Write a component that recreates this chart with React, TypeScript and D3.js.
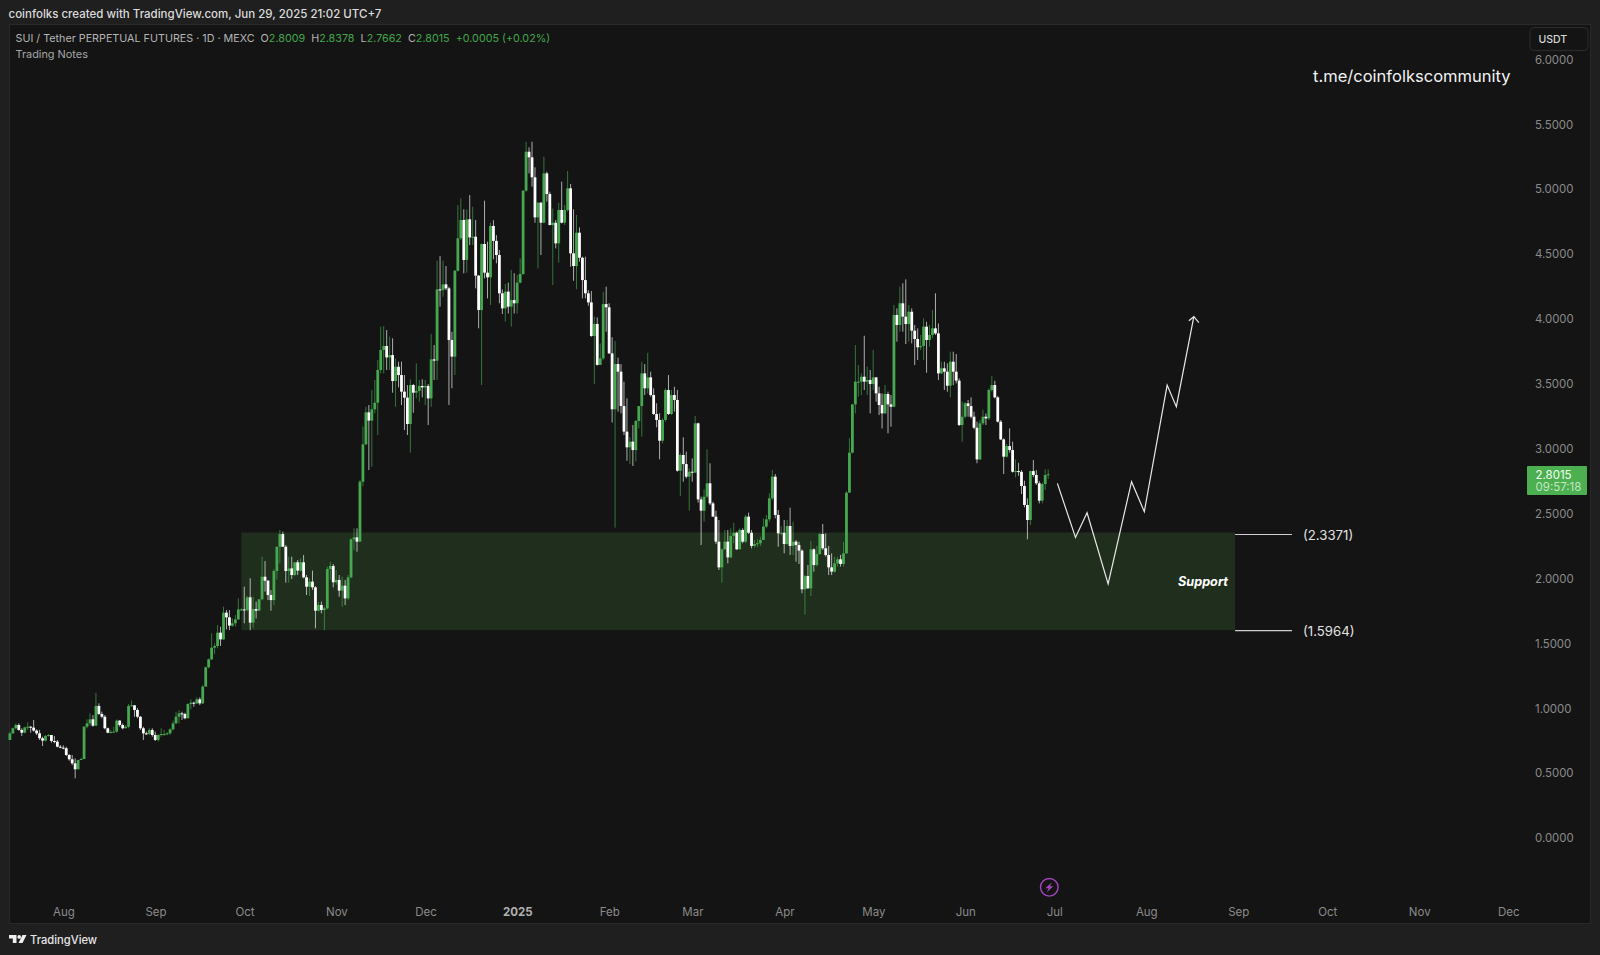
/**
 * SUI/USDT daily candles with support zone and forecast path, TradingView dark look
 */
import { useEffect, useRef } from 'react';
import * as d3 from 'd3';

const firstDay = new Date(Date.UTC(2024, 6, 14));
const firstOpen = 0.754;

const closes = [
  .805, .844, .869, .831, .81, .851, .856, .849, .826, .805,
  .767, .749, .785, .792, .746, .741, .702, .695, .69, .638,
  .605, .574, .528, .6, .607, .856, .882, .913, .864, 1.016,
  .954, .933, .844, .81, .815, .818, .903, .869, .844, .856,
  1.016, 1.021, .985, .933, .844, .805, .8, .831, .792, .754,
  .792, .8, .8, .805, .836, .882, .933, .959, .954, .921,
  1.031, 1.041, 1.036, 1.067, 1.036, 1.165, 1.314, 1.375, 1.465, 1.478,
  1.581, 1.529, 1.735, 1.699, 1.635, 1.653, 1.683, 1.76, 1.76, 1.755,
  1.853, 1.658, 1.763, 1.75, 1.838, 2.012, 1.981, 1.871, 1.832, 2.056,
  2.243, 2.341, 2.243, 2.056, 2.076, 2.025, 2.123, 2.059, 2.123, 2.007,
  1.935, 1.974, 1.93, 1.75, 1.794, 1.755, 1.768, 2.071, 2.095, 1.969,
  1.987, 1.905, 1.943, 1.845, 2.007, 2.3, 2.315, 2.282, 2.744, 3.032,
  3.279, 3.215, 3.302, 3.353, 3.605, 3.759, 3.79, 3.702, 3.72, 3.52,
  3.63, 3.566, 3.438, 3.392, 3.189, 3.489, 3.43, 3.443, 3.482, 3.471,
  3.482, 3.386, 3.687, 3.677, 4.226, 4.221, 4.265, 4.234, 3.836, 3.708,
  4.37, 4.62, 4.761, 4.453, 4.766, 4.627, 4.632, 4.332, 4.067, 4.576,
  4.355, 4.319, 4.715, 4.6, 4.491, 4.196, 4.08, 4.209, 4.093, 4.144,
  4.119, 4.278, 4.345, 4.987, 5.287, 5.244, 5.09, 4.781, 4.894, 4.74,
  5.12, 4.961, 4.722, 4.74, 4.581, 4.838, 4.74, 4.838, 5.005, 4.504,
  4.406, 4.663, 4.47, 4.298, 4.196, 4.126, 3.867, 3.96, 3.644, 3.695,
  4.113, 4.088, 3.733, 3.302, 3.651, 3.592, 3.327, 3.13, 3.009, 3.053,
  2.988, 3.212, 3.327, 3.579, 3.464, 3.548, 3.412, 3.266, 3.22, 3.06,
  3.22, 3.451, 3.266, 3.412, 3.374, 2.829, 2.95, 2.88, 2.783, 2.821,
  2.814, 3.194, 2.608, 2.521, 2.629, 2.732, 2.577, 2.475, 2.282, 2.084,
  2.223, 2.282, 2.161, 2.326, 2.351, 2.223, 2.372, 2.282, 2.475, 2.351,
  2.249, 2.264, 2.27, 2.295, 2.398, 2.454, 2.616, 2.783, 2.488, 2.346,
  2.351, 2.264, 2.403, 2.249, 2.282, 2.256, 2.213, 1.915, 2.017, 1.922,
  2.223, 2.102, 2.187, 2.341, 2.231, 2.179, 2.084, 2.051, 2.115, 2.146,
  2.11, 2.192, 2.66, 2.968, 3.34, 3.515, 3.515, 3.553, 3.515, 3.528,
  3.497, 3.548, 3.425, 3.335, 3.271, 3.42, 3.34, 3.322, 4.029, 3.952,
  4.119, 4.016, 3.959, 4.054, 3.908, 3.844, 3.78, 3.79, 3.939, 3.836,
  3.875, 3.926, 3.887, 3.579, 3.618, 3.592, 3.484, 3.669, 3.592, 3.523,
  3.181, 3.245, 3.348, 3.327, 3.245, 3.16, 2.916, 3.194, 3.245, 3.232,
  3.451, 3.489, 3.394, 3.207, 3.07, 2.937, 3.019, 2.988, 2.821, 2.826,
  2.82, 2.711, 2.565, 2.449, 2.826, 2.796, 2.732, 2.598, 2.726, 2.796, 2.8015,
];

const highs = [
  .818, .849, .882, .882, .844, .856, .89, .862, .908, .836,
  .831, .779, .792, .8, .792, .784, .754, .715, .713, .702,
  .646, .638, .612, .6, .617, .861, .913, .959, .946, 1.118,
  1.036, .972, .946, .849, .831, .856, .913, .908, .882, .869,
  1.031, 1.057, 1.023, 1, .938, .856, .818, .844, .844, .818,
  .8, .844, .831, .815, .844, .903, .972, .985, .972, .964,
  1.036, 1.067, 1.049, 1.082, 1.082, 1.177, 1.319, 1.383, 1.576, 1.498,
  1.64, 1.627, 1.781, 1.755, 1.755, 1.691, 1.717, 1.845, 1.768, 1.935,
  1.863, 2, 1.858, 1.82, 1.838, 2.166, 2.133, 1.987, 1.91, 2.069,
  2.243, 2.372, 2.359, 2.256, 2.166, 2.166, 2.123, 2.141, 2.154, 2.179,
  2.025, 2, 2.059, 1.94, 1.82, 1.82, 1.781, 2.09, 2.128, 2.11,
  2.064, 2.025, 2.012, 1.987, 2.025, 2.308, 2.385, 2.385, 2.757, 3.17,
  3.322, 3.335, 3.45, 3.528, 3.682, 3.939, 3.944, 3.913, 3.862, 3.849,
  3.695, 3.669, 3.669, 3.566, 3.489, 3.533, 3.497, 3.656, 3.528, 3.533,
  3.528, 3.497, 3.882, 3.797, 4.447, 4.483, 4.447, 4.406, 4.247, 3.9,
  4.376, 4.876, 4.928, 4.843, 4.843, 4.953, 4.863, 4.761, 4.337, 4.58,
  4.91, 4.594, 4.74, 4.76, 4.645, 4.53, 4.226, 4.268, 4.278, 4.376,
  4.35, 4.337, 4.465, 4.99, 5.364, 5.321, 5.364, 5.167, 4.9, 4.9,
  5.249, 5.133, 4.979, 4.85, 4.761, 4.894, 5.056, 4.876, 5.138, 5.038,
  4.843, 4.8, 4.704, 4.478, 4.478, 4.22, 4.214, 4.016, 4.01, 3.81,
  4.208, 4.247, 4.119, 3.857, 3.83, 3.7, 3.65, 3.515, 3.387, 3.086,
  3.181, 3.22, 3.327, 3.669, 3.651, 3.738, 3.592, 3.464, 3.348, 3.271,
  3.232, 3.464, 3.566, 3.451, 3.476, 3.451, 2.963, 3.086, 2.976, 2.847,
  2.924, 3.25, 3.199, 2.629, 2.685, 2.994, 2.886, 2.59, 2.521, 2.449,
  2.23, 2.372, 2.372, 2.385, 2.428, 2.359, 2.385, 2.385, 2.488, 2.506,
  2.372, 2.295, 2.3, 2.32, 2.462, 2.488, 2.654, 2.834, 2.803, 2.526,
  2.4, 2.449, 2.449, 2.544, 2.436, 2.295, 2.282, 2.223, 2.025, 2.102,
  2.287, 2.231, 2.249, 2.351, 2.418, 2.346, 2.249, 2.192, 2.166, 2.166,
  2.18, 2.28, 2.67, 3.078, 3.34, 3.797, 3.643, 3.579, 3.869, 3.63,
  3.605, 3.759, 3.55, 3.476, 3.425, 3.489, 3.438, 3.412, 4.106, 4.08,
  4.247, 4.273, 4.303, 4.106, 4.08, 3.952, 3.926, 3.875, 4.003, 3.977,
  3.952, 4.067, 4.196, 3.964, 3.669, 3.669, 3.656, 3.746, 3.746, 3.728,
  3.54, 3.361, 3.36, 3.374, 3.394, 3.284, 3.207, 3.22, 3.3, 3.27,
  3.463, 3.559, 3.523, 3.404, 3.22, 3.078, 3.035, 3.155, 3.053, 2.916,
  2.89, 2.834, 2.752, 2.616, 2.83, 2.911, 2.834, 2.75, 2.737, 2.839, 2.8378,
];

const lows = [
  .754, .8, .836, .825, .785, .805, .831, .81, .818, .792,
  .754, .707, .741, .779, .733, .728, .697, .69, .682, .63,
  .594, .561, .458, .528, .6, .607, .844, .862, .856, .861,
  .946, .921, .836, .805, .805, .81, .81, .856, .836, .844,
  .844, 1.01, .933, .921, .831, .754, .792, .792, .779, .746,
  .741, .779, .785, .79, .792, .826, .877, .882, .908, .913,
  .921, .99, 1.01, 1.031, 1.023, 1.031, 1.165, 1.306, 1.37, 1.416,
  1.46, 1.478, 1.524, 1.606, 1.601, 1.627, 1.627, 1.678, 1.75, 1.653,
  1.743, 1.6, 1.614, 1.69, 1.75, 1.83, 1.897, 1.833, 1.75, 1.794,
  1.99, 2.115, 2.243, 1.966, 1.966, 1.994, 2.017, 2.025, 2.051, 2,
  1.871, 1.863, 1.91, 1.614, 1.743, 1.73, 1.6, 1.76, 1.987, 1.93,
  1.95, 1.858, 1.781, 1.794, 1.832, 2, 2.218, 2.205, 2.3, 2.71,
  3.027, 2.834, 2.86, 3.271, 3.104, 3.579, 3.579, 3.605, 3.605, 3.43,
  3.322, 3.471, 3.335, 3.142, 3.104, 2.968, 3.276, 3.387, 3.361, 3.394,
  3.335, 3.181, 3.322, 3.528, 3.528, 4.093, 4.17, 4.22, 3.335, 3.464,
  3.566, 4.363, 4.607, 4.35, 4.355, 4.568, 4.568, 4.234, 3.926, 3.49,
  4.311, 4.157, 4.106, 4.458, 4.427, 4.119, 4.036, 3.977, 4.04, 3.939,
  4.04, 4.04, 4.272, 4.337, 4.979, 5.12, 5.018, 4.74, 4.388, 4.491,
  4.735, 4.902, 4.72, 4.26, 4.542, 4.432, 4.735, 4.722, 4.825, 4.401,
  4.293, 4.227, 4.44, 4.157, 4.157, 4.1, 3.86, 3.497, 3.64, 3.644,
  3.68, 3.9, 3.728, 3.2, 2.39, 3.284, 3.271, 3.104, 2.906, 2.88,
  2.865, 2.9, 3.155, 3.091, 3.412, 3.425, 3.399, 3.258, 3.163, 2.917,
  3.04, 3.207, 3.258, 3.258, 3.284, 2.822, 2.634, 2.744, 2.77, 2.521,
  2.744, 2.814, 2.583, 2.256, 2.436, 2.616, 2.564, 2.475, 2.264, 2.064,
  1.966, 2.218, 2.115, 2.154, 2.27, 2.218, 2.223, 2.27, 2.27, 2.341,
  2.231, 2.238, 2.24, 2.249, 2.295, 2.385, 2.436, 2.603, 2.462, 2.243,
  2.33, 2.192, 2.256, 2.179, 2.179, 2.128, 2.11, 1.884, 1.72, 1.922,
  1.863, 2.051, 2.09, 2.179, 2.218, 2.166, 2.025, 2.025, 2.043, 2.09,
  2.09, 2.09, 2.19, 2.66, 2.963, 3.271, 3.4, 3.412, 3.451, 3.412,
  3.271, 3.451, 3.361, 3.258, 3.155, 3.266, 3.117, 3.168, 3.317, 3.823,
  3.9, 3.9, 3.805, 3.823, 3.81, 3.643, 3.682, 3.759, 3.682, 3.584,
  3.785, 3.849, 3.875, 3.528, 3.574, 3.451, 3.438, 3.394, 3.489, 3.502,
  3.173, 3.053, 3.232, 3.245, 3.232, 3.148, 2.886, 2.91, 3.181, 3.181,
  3.22, 3.438, 3.386, 3.2, 3.065, 2.803, 2.93, 2.968, 2.814, 2.778,
  2.79, 2.649, 2.546, 2.3, 2.41, 2.78, 2.719, 2.577, 2.577, 2.68, 2.7662,
];

const priceTicks = [0, 0.5, 1, 1.5, 2, 2.5, 3, 3.5, 4, 4.5, 5, 5.5, 6];

const timeTicks: [number, number, string][] = [
  [2024, 7, 'Aug'], [2024, 8, 'Sep'], [2024, 9, 'Oct'], [2024, 10, 'Nov'], [2024, 11, 'Dec'],
  [2025, 0, '2025'], [2025, 1, 'Feb'], [2025, 2, 'Mar'], [2025, 3, 'Apr'], [2025, 4, 'May'],
  [2025, 5, 'Jun'], [2025, 6, 'Jul'], [2025, 7, 'Aug'], [2025, 8, 'Sep'], [2025, 9, 'Oct'],
  [2025, 10, 'Nov'], [2025, 11, 'Dec'],
];

const zoneStart = new Date(Date.UTC(2024, 8, 30));
const zoneEnd = new Date(Date.UTC(2025, 7, 31));
const zoneTop = 2.353;
const zoneBottom = 1.6;
const levels = [2.3371, 1.5964];

// forecast drawing: days after the first candle, price
const forecastDays = [353.1, 359.2, 363.1, 370.2, 378.1, 382.4, 390.1, 393.2, 399.1];
const forecastPrices = [2.731, 2.315, 2.505, 1.956, 2.744, 2.513, 3.489, 3.322, 4.016];

const legendParts: [string, string][] = [
  ['SUI / Tether PERPETUAL FUTURES · 1D · MEXC  O', '#b4b4b4'], ['2.8009', '#43a64c'],
  ['  H', '#b4b4b4'], ['2.8378', '#43a64c'], ['  L', '#b4b4b4'], ['2.7662', '#43a64c'],
  ['  C', '#b4b4b4'], ['2.8015', '#43a64c'], ['  +0.0005 (+0.02%)', '#43a64c'],
];

const GREEN = '#46a94f';
const FONT = 'Inter, "Noto Sans", sans-serif';

export default function App() {
  const svgRef = useRef<SVGSVGElement>(null);

  useEffect(() => {
    document.body.style.margin = '0';
    if (!svgRef.current) return;
    const svg = d3.select(svgRef.current);
    svg.selectAll('*').remove();

    const x = d3.scaleUtc()
      .domain([new Date(Date.UTC(2024, 7, 1)), new Date(Date.UTC(2025, 11, 1))])
      .range([63.3, 1508]);
    const y = d3.scaleLinear().domain([0, 6]).range([837.8, 59.2]);
    const dayX = (i: number) => x(new Date(firstDay.getTime() + i * 864e5));

    // Frame
    svg.append('rect').attr('width', 1600).attr('height', 955).attr('fill', '#1f1f1f');
    svg.append('rect').attr('x', 9.5).attr('y', 24.5).attr('width', 1581).attr('height', 899)
      .attr('fill', '#141414').attr('stroke', '#292929');

    // Support zone
    svg.append('rect')
      .attr('x', x(zoneStart)).attr('width', x(zoneEnd) - x(zoneStart))
      .attr('y', y(zoneTop)).attr('height', y(zoneBottom) - y(zoneTop))
      .attr('fill', '#202e1d');

    // Candles
    const candles = closes.map((c, i) => ({
      i, c, o: i === 0 ? firstOpen : closes[i - 1], h: highs[i], l: lows[i],
    }));
    const g = svg.append('g').selectAll('g').data(candles).enter().append('g')
      .attr('fill', d => (d.c >= d.o ? GREEN : '#ffffff'));
    g.append('rect')
      .attr('x', d => dayX(d.i) - 0.5).attr('width', 1)
      .attr('y', d => y(d.h)).attr('height', d => y(d.l) - y(d.h))
      .attr('opacity', 0.65);
    g.append('rect')
      .attr('x', d => dayX(d.i) - 1.4).attr('width', 2.8)
      .attr('y', d => y(Math.max(d.o, d.c)))
      .attr('height', d => Math.max(1, Math.abs(y(d.o) - y(d.c))));

    // Forecast path with arrow head
    const line = d3.line<number>().x((_, i) => dayX(forecastDays[i])).y(d => y(d));
    svg.append('path').attr('d', line(forecastPrices))
      .attr('fill', 'none').attr('stroke', '#e8e8e8').attr('stroke-width', 1.2);
    const tipX = dayX(forecastDays[forecastDays.length - 1]);
    const tipY = y(forecastPrices[forecastPrices.length - 1]);
    svg.append('path').attr('d', `M${tipX - 5},${tipY + 4}L${tipX},${tipY}L${tipX + 5},${tipY + 6}`)
      .attr('fill', 'none').attr('stroke', '#e8e8e8').attr('stroke-width', 1.2);

    // Level lines and labels
    levels.forEach(v => {
      svg.append('line').attr('x1', x(zoneEnd)).attr('x2', 1292).attr('y1', y(v)).attr('y2', y(v))
        .attr('stroke', '#cfcfcf').attr('stroke-width', 1.2);
      svg.append('text').attr('x', 1303).attr('y', y(v) + 0.5).attr('dy', '0.35em')
        .attr('font-family', FONT).attr('font-size', 13.2).attr('fill', '#e2e2e2')
        .text(`(${v.toFixed(4)})`);
    });
    svg.append('text').attr('x', 1228).attr('y', 581.5).attr('dy', '0.35em').attr('text-anchor', 'end')
      .attr('font-family', FONT).attr('font-size', 12.7).attr('font-weight', 700).attr('font-style', 'italic')
      .attr('fill', '#ffffff').text('Support');

    // Price axis
    svg.append('g').selectAll('text').data(priceTicks).enter().append('text')
      .attr('x', 1535).attr('y', d => y(d) + 0.5).attr('dy', '0.35em')
      .attr('font-family', FONT).attr('font-size', 11.4).attr('fill', '#8b8b8b')
      .text(d => d.toFixed(4));

    // Time axis
    svg.append('g').selectAll('text').data(timeTicks).enter().append('text')
      .attr('x', d => x(new Date(Date.UTC(d[0], d[1], 1))) + 0.7).attr('y', 912).attr('dy', '0.35em')
      .attr('text-anchor', 'middle').attr('font-family', FONT).attr('font-size', 11.5)
      .attr('font-weight', d => (d[2] === '2025' ? 700 : 400))
      .attr('fill', d => (d[2] === '2025' ? '#b0b0b0' : '#8b8b8b'))
      .text(d => d[2]);

    // Header and legend
    svg.append('text').attr('x', 8.5).attr('y', 18).attr('font-family', FONT).attr('font-size', 11.5)
      .attr('font-weight', 500).attr('fill', '#dcdcdc')
      .text('coinfolks created with TradingView.com, Jun 29, 2025 21:02 UTC+7');
    const legend = svg.append('text').attr('x', 15.5).attr('y', 42.3).attr('font-family', FONT)
      .attr('font-size', 10.75).attr('xml:space', 'preserve').style('white-space', 'pre');
    legendParts.forEach(([t, c]) => legend.append('tspan').attr('fill', c).text(t));
    svg.append('text').attr('x', 15.5).attr('y', 58).attr('font-family', FONT).attr('font-size', 10.9)
      .attr('fill', '#a6a6a6').text('Trading Notes');

    // Watermark
    svg.append('text').attr('x', 1313).attr('y', 81.5).attr('font-family', FONT).attr('font-size', 16.55)
      .attr('fill', '#f2f2f2').text('t.me/coinfolkscommunity');

    // Currency button
    svg.append('rect').attr('x', 1530).attr('y', 27.5).attr('width', 58).attr('height', 23).attr('rx', 4)
      .attr('fill', '#141414').attr('stroke', '#2c2c2c');
    svg.append('text').attr('x', 1538.5).attr('y', 39).attr('dy', '0.35em').attr('font-family', FONT)
      .attr('font-size', 10.5).attr('font-weight', 500).attr('fill', '#d8d8d8').text('USDT');

    // Last price tag
    svg.append('rect').attr('x', 1527).attr('y', 466).attr('width', 60).attr('height', 29).attr('rx', 1)
      .attr('fill', '#4caf50');
    svg.append('text').attr('x', 1535.5).attr('y', 474.5).attr('dy', '0.35em').attr('font-family', FONT)
      .attr('font-size', 11.5).attr('fill', '#f0fff0').text(closes[closes.length - 1].toFixed(4));
    svg.append('text').attr('x', 1535.5).attr('y', 487).attr('dy', '0.35em').attr('font-family', FONT)
      .attr('font-size', 11.5).attr('fill', '#c4e6c6').text('09:57:18');

    // Lightning badge
    const badge = svg.append('g').attr('transform', 'translate(1049.3,887.3)');
    badge.append('circle').attr('r', 8.8).attr('fill', 'none').attr('stroke', '#a445bd').attr('stroke-width', 1.4);
    badge.append('path').attr('d', 'M2.6,-5L-4,1H-0.6L-2.4,5L4,-1H0.6Z').attr('fill', '#a445bd');

    // TradingView logo
    const logo = svg.append('g').attr('transform', 'translate(9,935)').attr('fill', '#f0f0f0');
    logo.append('path').attr('d', 'M0,0H7.5V8H3.8V3.6H0Z');
    logo.append('circle').attr('cx', 10.2).attr('cy', 1.9).attr('r', 1.9);
    logo.append('path').attr('d', 'M13.5,0H17.5L13.5,8H9.5Z');
    svg.append('text').attr('x', 30).attr('y', 940).attr('dy', '0.35em').attr('font-family', FONT)
      .attr('font-size', 11.2).attr('font-weight', 500).attr('fill', '#e6e6e6').text('TradingView');
  }, []);

  return (
    <svg ref={svgRef} width={1600} height={955} viewBox="0 0 1600 955"
      style={{ position: 'absolute', left: 0, top: 0, display: 'block' }} />
  );
}
